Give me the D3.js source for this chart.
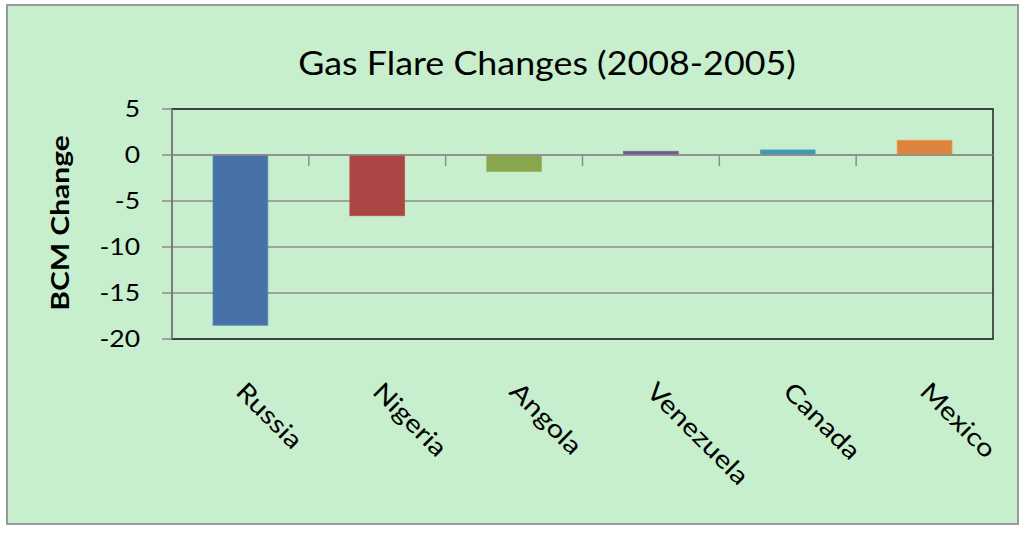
<!DOCTYPE html>
<html><head><meta charset="utf-8">
<script src="https://cdn.jsdelivr.net/npm/d3@7"></script>
<style>body{margin:0;background:#fff}svg{display:block}</style>
</head><body>
<svg id="c" width="1024" height="534"></svg>
<script>
const categories = ["Russia","Nigeria","Angola","Venezuela","Canada","Mexico"];
const values = [-18.5,-6.6,-1.8,0.4,0.55,1.6];
const colors = ["#4672A8","#AA4643","#89A54E","#71588F","#4198AF","#DB843D"];
const yTicks = [5,0,-5,-10,-15,-20];
const title = "Gas Flare Changes (2008-2005)";
const yTitle = "BCM Change";

const svg = d3.select("#c");
const font = "Lato, 'Open Sans', sans-serif";
svg.append("rect").attr("x",8).attr("y",6).attr("width",1011).attr("height",519)
  .attr("fill","#bdbdbd");
svg.append("rect").attr("x",7).attr("y",5).attr("width",1011).attr("height",519)
  .attr("fill","#C7EECD").attr("stroke","#9a9a9a").attr("stroke-width",2);

const L=172,R=993,T=109,B=339;
const x = d3.scaleBand().domain(categories).range([L,R]).paddingInner(0.6).paddingOuter(0.3);
const xb = d3.scaleBand().domain(categories).range([L,R]);
const y = d3.scaleLinear().domain([-20,5]).range([B,T]);

// gridlines
svg.append("g").selectAll("line").data(yTicks).join("line")
  .attr("x1",L-10).attr("x2",R).attr("y1",d=>y(d)).attr("y2",d=>y(d))
  .attr("stroke","#8c8c8c").attr("stroke-width",1.5);
// plot border
svg.append("rect").attr("x",L).attr("y",T).attr("width",R-L).attr("height",B-T)
  .attr("fill","none").attr("stroke","#222").attr("stroke-width",1.5);
// y axis line
svg.append("line").attr("x1",L).attr("x2",L).attr("y1",T).attr("y2",B).attr("stroke","#8c8c8c").attr("stroke-width",1.5);
// bars
svg.append("g").selectAll("rect").data(values).join("rect")
  .attr("x",(d,i)=>x(categories[i])).attr("width",x.bandwidth())
  .attr("y",d=>y(Math.max(0,d))).attr("height",d=>Math.abs(y(d)-y(0)))
  .attr("fill",(d,i)=>colors[i]).attr("stroke",(d,i)=>d3.color(colors[i]).brighter(0.3)).attr("stroke-width",0.8);
// zero axis line
svg.append("line").attr("x1",L).attr("x2",R).attr("y1",y(0)).attr("y2",y(0)).attr("stroke","#8c8c8c").attr("stroke-width",1.5);
// category ticks
svg.append("g").selectAll("line").data(categories.slice(1)).join("line")
  .attr("x1",d=>xb(d)).attr("x2",d=>xb(d)).attr("y1",y(0)).attr("y2",y(0)+11)
  .attr("stroke","#8c8c8c").attr("stroke-width",1.5);
// y tick labels
svg.append("g").selectAll("text").data(yTicks).join("text")
  .attr("transform",d=>`translate(140,${y(d)}) scale(1.15,1)`).attr("dy","0.36em").attr("text-anchor","end")
  .attr("font-family",font).attr("font-size",23).attr("fill","#000").text(d=>d);
// x labels
svg.append("g").selectAll("text").data(categories).join("text")
  .attr("transform",d=>`translate(${xb(d)+xb.bandwidth()/2-6},${393}) rotate(45) scale(1.18,1)`)
  .attr("text-anchor","start")
  .attr("font-family",font).attr("font-size",25).attr("fill","#000").text(d=>d);
// title
svg.append("text").attr("transform","translate(547,75) scale(1.12,1)").attr("text-anchor","middle")
  .attr("font-family",font).attr("font-size",32).attr("fill","#000").text(title);
// y title
svg.append("text").attr("transform","translate(69,223) rotate(-90) scale(1.2,1)").attr("text-anchor","middle")
  .attr("font-family",font).attr("font-weight","bold").attr("font-size",25).attr("fill","#000").text(yTitle);
</script>
</body></html>
